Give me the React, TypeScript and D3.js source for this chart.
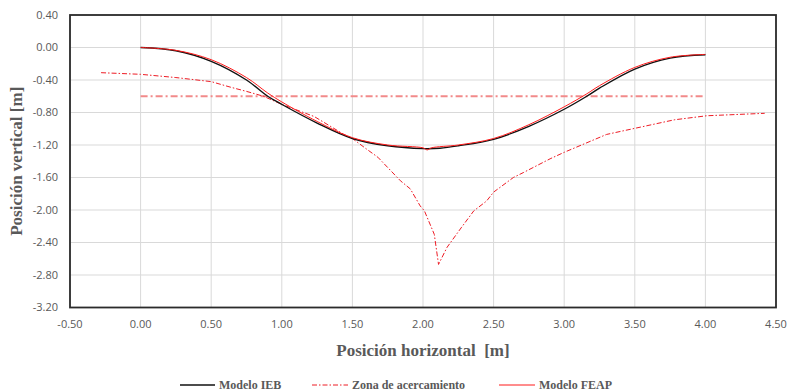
import React from "react";
import * as d3 from "d3";

// Modelo IEB (black)
const iebX = [0, 0.25, 0.5, 0.75, 0.9, 1.0, 1.25, 1.5, 1.75, 2.0, 2.12, 2.25, 2.5, 2.75, 3.0, 3.16, 3.25, 3.5, 3.75, 4.0];
const iebY = [0, -0.04, -0.17, -0.4, -0.6, -0.7, -0.93, -1.12, -1.21, -1.245, -1.24, -1.21, -1.13, -0.97, -0.76, -0.6, -0.5, -0.265, -0.13, -0.09];

// Modelo FEAP (red)
const feapX = [0, 0.25, 0.5, 0.75, 0.9, 1.0, 1.25, 1.5, 1.75, 2.0, 2.03, 2.06, 2.25, 2.5, 2.75, 3.0, 3.16, 3.25, 3.5, 3.75, 4.0];
const feapY = [0, -0.035, -0.15, -0.37, -0.56, -0.67, -0.91, -1.11, -1.2, -1.235, -1.26, -1.235, -1.2, -1.12, -0.95, -0.73, -0.57, -0.47, -0.245, -0.12, -0.085];

// Zona de acercamiento (dash-dot curve)
const zonaX = [-0.28, 0, 0.25, 0.5, 0.64, 0.75, 0.87, 1.0, 1.23, 1.44, 1.5, 1.6, 1.68, 1.84, 1.91, 1.98, 2.01, 2.08, 2.11, 2.17, 2.27, 2.36, 2.45, 2.5, 2.64, 2.71, 2.9, 3.0, 3.3, 3.54, 3.78, 4.01, 4.42];
const zonaY = [-0.31, -0.33, -0.37, -0.42, -0.49, -0.54, -0.6, -0.7, -0.85, -1.07, -1.12, -1.25, -1.35, -1.64, -1.74, -1.95, -2.01, -2.3, -2.67, -2.46, -2.22, -2.01, -1.89, -1.78, -1.6, -1.54, -1.37, -1.29, -1.07, -0.98, -0.89, -0.84, -0.81];

// horizontal reference of the zona
const limiteX = [0, 4.0];
const limiteY = [-0.6, -0.6];

const xTicks = [-0.5, 0, 0.5, 1, 1.5, 2, 2.5, 3, 3.5, 4, 4.5];
const yTicks = [0.4, 0, -0.4, -0.8, -1.2, -1.6, -2.0, -2.4, -2.8, -3.2];

const width = 787;
const height = 391;
const margin = { top: 15, right: 11, bottom: 83.5, left: 70 };

const tickFont = "'Open Sans', 'Noto Sans', sans-serif";
const serif = "'Liberation Serif', 'DejaVu Serif', 'Times New Roman', serif";

export default function App() {
  const x = d3.scaleLinear().domain([-0.5, 4.5]).range([margin.left, width - margin.right]);
  const y = d3.scaleLinear().domain([-3.2, 0.4]).range([height - margin.bottom, margin.top]);

  const smooth = d3
    .line<[number, number]>()
    .x((d) => x(d[0]))
    .y((d) => y(d[1]))
    .curve(d3.curveCatmullRom.alpha(0.5));
  const straight = d3
    .line<[number, number]>()
    .x((d) => x(d[0]))
    .y((d) => y(d[1]));

  const pts = (xs: number[], ys: number[]) => xs.map((v, i) => [v, ys[i]] as [number, number]);
  const fmt = (v: number) => (Math.abs(v) < 1e-9 ? "0.00" : d3.format(".2f")(v).replace("\u2212", "-"));

  const x0 = x(-0.5);
  const x1 = x(4.5);
  const y0 = y(0.4);
  const y1 = y(-3.2);

  const legendY = 385;
  const legendText = { fontFamily: serif, fontWeight: "bold" as const, fontSize: 12, fill: "#595959" };

  return (
    <svg width={width} height={height} style={{ position: "absolute", left: 0, top: 0, background: "#fff" }}>
      {/* grid */}
      {xTicks.map((t) => (
        <line key={"gx" + t} x1={x(t)} x2={x(t)} y1={y0} y2={y1} stroke="#d9d9d9" strokeWidth={1} />
      ))}
      {yTicks.map((t) => (
        <line key={"gy" + t} x1={x0} x2={x1} y1={y(t)} y2={y(t)} stroke="#d9d9d9" strokeWidth={1} />
      ))}

      {/* series */}
      <path
        d={straight(pts(limiteX, limiteY)) ?? ""}
        fill="none"
        stroke="#f28a8a"
        strokeWidth={1.8}
        strokeDasharray="7,3,2,3"
      />
      <path
        d={straight(pts(zonaX, zonaY)) ?? ""}
        fill="none"
        stroke="#ee1c25"
        strokeWidth={1}
        strokeDasharray="5,2,1.5,2"
      />
      <path d={smooth(pts(iebX, iebY)) ?? ""} fill="none" stroke="#111" strokeWidth={1.4} />
      <path d={smooth(pts(feapX, feapY)) ?? ""} fill="none" stroke="#ff1a1a" strokeWidth={1} />

      {/* frame */}
      <rect x={x0} y={y0} width={x1 - x0} height={y1 - y0} fill="none" stroke="#2b2b2b" strokeWidth={1.8} />

      {/* tick labels */}
      {xTicks.map((t) => (
        <text
          key={"tx" + t}
          x={x(t)}
          y={y1 + 20}
          textAnchor="middle"
          style={{ fontFamily: tickFont, fontSize: 11, fill: "#595959" }}
        >
          {fmt(t)}
        </text>
      ))}
      {yTicks.map((t) => (
        <text
          key={"ty" + t}
          x={x0 - 12}
          y={y(t)}
          dy="0.35em"
          textAnchor="end"
          style={{ fontFamily: tickFont, fontSize: 11, fill: "#595959" }}
        >
          {fmt(t)}
        </text>
      ))}

      {/* axis titles */}
      <text
        x={(x0 + x1) / 2}
        y={356}
        textAnchor="middle"
        style={{ fontFamily: serif, fontWeight: "bold", fontSize: 17, fill: "#595959", whiteSpace: "pre" }}
      >
        {"Posición horizontal  [m]"}
      </text>
      <text
        transform={`translate(22,${(y0 + y1) / 2}) rotate(-90)`}
        textAnchor="middle"
        style={{ fontFamily: serif, fontWeight: "bold", fontSize: 17, fill: "#595959" }}
      >
        Posición vertical [m]
      </text>

      {/* legend */}
      <line x1={180} x2={215} y1={legendY} y2={legendY} stroke="#111" strokeWidth={1.4} />
      <text x={219} y={legendY} dy="0.35em" style={legendText}>
        Modelo IEB
      </text>
      <line
        x1={312}
        x2={348}
        y1={legendY}
        y2={legendY}
        stroke="#ee1c25"
        strokeWidth={1}
        strokeDasharray="5,2,1.5,2"
      />
      <text x={352} y={legendY} dy="0.35em" style={legendText}>
        Zona de acercamiento
      </text>
      <line x1={499} x2={535} y1={legendY} y2={legendY} stroke="#ff1a1a" strokeWidth={1} />
      <text x={539} y={legendY} dy="0.35em" style={legendText}>
        Modelo FEAP
      </text>
    </svg>
  );
}
